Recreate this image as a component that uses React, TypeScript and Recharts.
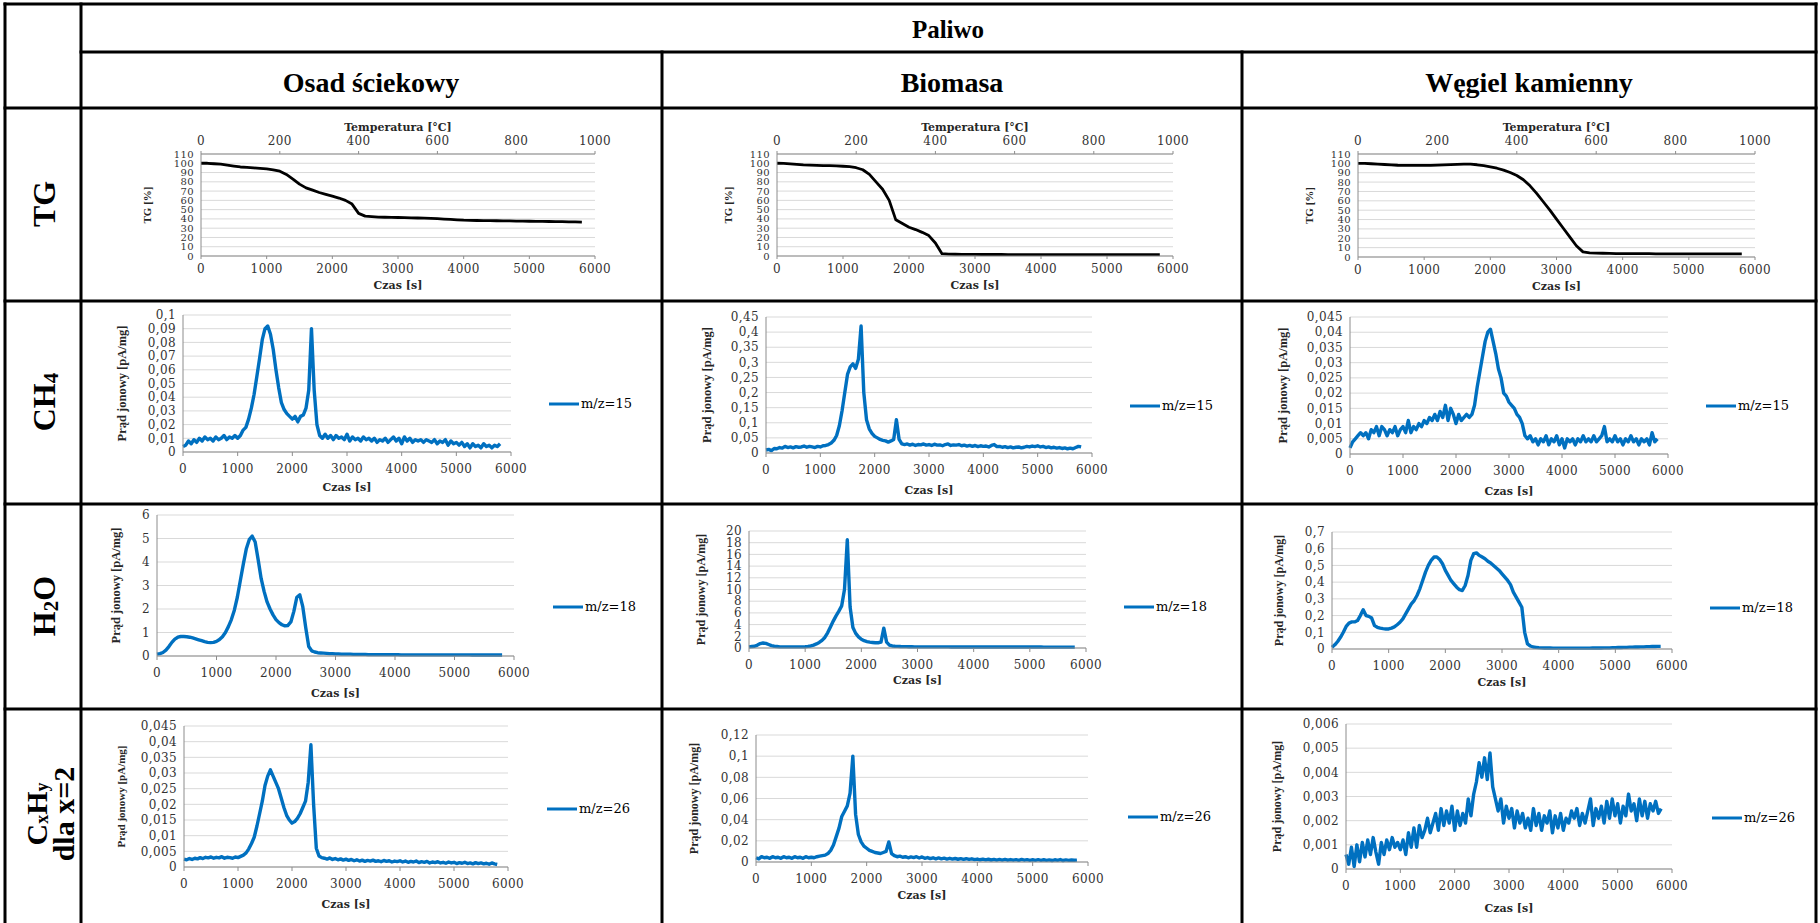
import React from "react";
import { LineChart, Line, XAxis, YAxis, CartesianGrid, Legend } from "recharts";

// czas pomiaru [s]
const czas100 = [
  0, 100, 200, 300, 400, 500, 600, 700, 800, 900,
  1000, 1100, 1200, 1300, 1400, 1500, 1600, 1700, 1800, 1900,
  2000, 2100, 2200, 2300, 2400, 2500, 2600, 2700, 2800, 2900,
  3000, 3100, 3200, 3300, 3400, 3500, 3600, 3700, 3800, 3900,
  4000, 4100, 4200, 4300, 4400, 4500, 4600, 4700, 4800, 4900,
  5000, 5100, 5200, 5300, 5400, 5500, 5600, 5700, 5800,
];
const czas50 = [
  0, 50, 100, 150, 200, 250, 300, 350, 400, 450,
  500, 550, 600, 650, 700, 750, 800, 850, 900, 950,
  1000, 1050, 1100, 1150, 1200, 1250, 1300, 1350, 1400, 1450,
  1500, 1550, 1600, 1650, 1700, 1750, 1800, 1850, 1900, 1950,
  2000, 2050, 2100, 2150, 2200, 2250, 2300, 2350, 2400, 2450,
  2500, 2550, 2600, 2650, 2700, 2750, 2800, 2850, 2900, 2950,
  3000, 3050, 3100, 3150, 3200, 3250, 3300, 3350, 3400, 3450,
  3500, 3550, 3600, 3650, 3700, 3750, 3800, 3850, 3900, 3950,
  4000, 4050, 4100, 4150, 4200, 4250, 4300, 4350, 4400, 4450,
  4500, 4550, 4600, 4650, 4700, 4750, 4800, 4850, 4900, 4950,
  5000, 5050, 5100, 5150, 5200, 5250, 5300, 5350, 5400, 5450,
  5500, 5550, 5600, 5650, 5700, 5750, 5800,
];

const czasTicks = [0, 1000, 2000, 3000, 4000, 5000, 6000];
// górna oś: temperatura [°C] i odpowiadające jej położenia na osi czasu
const tempLabels = [0, 200, 400, 600, 800, 1000];
const tempAtCzas = [0, 1200, 2400, 3600, 4800, 6000];

// TG [%]
const tgOsad = [
  100, 100, 99.5, 99, 98, 97, 96, 95.5, 95, 94.5,
  94, 93, 91.5, 88, 83, 77.5, 73.5, 71, 68.5, 66.5,
  64.5, 62.5, 60, 56, 46, 43, 42.5, 42, 41.8, 41.6,
  41.5, 41.3, 41.1, 41, 40.8, 40.5, 40.2, 39.8, 39.4, 39,
  38.6, 38.4, 38.3, 38.2, 38.1, 38, 37.9, 37.8, 37.7, 37.6,
  37.5, 37.4, 37.3, 37.2, 37.1, 37, 36.9, 36.8, 36.6,
];
const tgBiomasa = [
  100, 99.8, 99.3, 98.7, 98.2, 97.9, 97.7, 97.5, 97.4, 97.3,
  96.8, 96.3, 95.2, 93, 88, 80, 72, 60, 39, 35,
  31, 28.5, 25.5, 22, 14, 2.5, 2, 1.9, 1.8, 1.7,
  1.7, 1.6, 1.6, 1.6, 1.6, 1.5, 1.5, 1.5, 1.5, 1.5,
  1.5, 1.5, 1.5, 1.5, 1.5, 1.5, 1.5, 1.5, 1.5, 1.5,
  1.5, 1.5, 1.5, 1.5, 1.5, 1.5, 1.4, 1.4, 1.4,
];
const tgWegiel = [
  100, 100, 99.6, 99.2, 98.8, 98.4, 98, 97.8, 97.8, 97.8,
  97.8, 97.9, 98.1, 98.4, 98.7, 99, 99.2, 99.1, 98.5, 97.5,
  96.3, 94.8, 92.8, 90.3, 87, 82.5, 76, 68, 59, 50,
  40.5, 31, 21.5, 12, 5.5, 4.5, 4.2, 4, 3.8, 3.6,
  3.5, 3.5, 3.5, 3.5, 3.5, 3.4, 3.4, 3.4, 3.4, 3.4,
  3.4, 3.4, 3.3, 3.3, 3.3, 3.3, 3.3, 3.3, 3.3,
];

// CH4, m/z=15
const ch4Osad = [
  0.004, 0.005, 0.008, 0.006, 0.009, 0.007, 0.01, 0.008, 0.011, 0.009,
  0.01, 0.008, 0.011, 0.009, 0.01, 0.012, 0.009, 0.011, 0.01, 0.012,
  0.01, 0.012, 0.016, 0.018, 0.024, 0.032, 0.042, 0.055, 0.068, 0.082,
  0.09, 0.092, 0.086, 0.075, 0.06, 0.047, 0.036, 0.031, 0.028, 0.026,
  0.024, 0.026, 0.022, 0.026, 0.027, 0.032, 0.045, 0.09, 0.045, 0.02,
  0.012, 0.01, 0.013, 0.01, 0.012, 0.009, 0.012, 0.01, 0.011, 0.009,
  0.013, 0.008, 0.011, 0.009, 0.01, 0.008, 0.011, 0.009, 0.01, 0.008,
  0.01, 0.007, 0.009, 0.008, 0.01, 0.007, 0.009, 0.011, 0.008, 0.01,
  0.006, 0.011, 0.008, 0.01, 0.007, 0.009, 0.008, 0.009, 0.007, 0.009,
  0.008, 0.007, 0.009, 0.006, 0.008, 0.007, 0.009, 0.005, 0.008, 0.006,
  0.007, 0.005, 0.007, 0.004, 0.006, 0.003, 0.006, 0.004, 0.005, 0.003,
  0.006, 0.004, 0.005, 0.003, 0.005, 0.004, 0.006,
];
const ch4Biomasa = [
  0.01, 0.012, 0.008, 0.015, 0.014, 0.018, 0.016, 0.022, 0.018, 0.02,
  0.017, 0.021, 0.019, 0.02, 0.023, 0.019, 0.022, 0.02, 0.018, 0.022,
  0.02, 0.024, 0.025, 0.028, 0.033, 0.042, 0.058, 0.09, 0.14, 0.2,
  0.26, 0.285, 0.295, 0.28, 0.31, 0.42, 0.2, 0.11, 0.08, 0.065,
  0.055, 0.05, 0.045, 0.042, 0.04, 0.036, 0.04, 0.045, 0.11, 0.045,
  0.03, 0.028, 0.03, 0.026, 0.029, 0.025, 0.028, 0.027, 0.03, 0.026,
  0.028, 0.025, 0.029, 0.026, 0.027, 0.024, 0.028, 0.03, 0.025, 0.027,
  0.026, 0.028, 0.024, 0.026, 0.023, 0.025, 0.022, 0.025, 0.021, 0.024,
  0.022, 0.023, 0.02, 0.025, 0.028, 0.021, 0.022, 0.019, 0.021, 0.018,
  0.02, 0.017, 0.019, 0.02, 0.017, 0.019, 0.022, 0.02, 0.023, 0.021,
  0.024, 0.02, 0.022, 0.018, 0.02, 0.017, 0.019, 0.016, 0.018, 0.015,
  0.017, 0.014, 0.016, 0.014, 0.018, 0.022, 0.02,
];
const ch4Wegiel = [
  0.002, 0.004, 0.005, 0.006, 0.007, 0.006, 0.007, 0.005, 0.008, 0.007,
  0.009, 0.006, 0.009, 0.008, 0.006, 0.008, 0.007, 0.009, 0.006, 0.008,
  0.009, 0.007, 0.011, 0.007, 0.009, 0.008, 0.01, 0.009, 0.011, 0.01,
  0.012, 0.011, 0.013, 0.011, 0.014, 0.012, 0.016, 0.011, 0.015, 0.013,
  0.01, 0.013, 0.011, 0.012, 0.013, 0.012, 0.013, 0.016, 0.022, 0.027,
  0.032, 0.037, 0.04, 0.041, 0.037, 0.033, 0.028, 0.025, 0.02, 0.019,
  0.017, 0.016, 0.015, 0.013, 0.012, 0.01, 0.006, 0.005, 0.006, 0.004,
  0.005, 0.003, 0.005, 0.004, 0.006, 0.003, 0.005, 0.004, 0.006, 0.003,
  0.005, 0.002, 0.005, 0.004, 0.005, 0.003, 0.005, 0.004, 0.006, 0.004,
  0.005, 0.004, 0.006, 0.004, 0.005, 0.006, 0.009, 0.004, 0.005, 0.004,
  0.006, 0.004, 0.005, 0.003, 0.005, 0.004, 0.006, 0.004, 0.005, 0.003,
  0.005, 0.004, 0.005, 0.003, 0.007, 0.004, 0.005,
];

// H2O, m/z=18
const h2oOsad = [
  0.08, 0.1, 0.15, 0.25, 0.4, 0.58, 0.72, 0.8, 0.83, 0.83,
  0.82, 0.8, 0.77, 0.73, 0.69, 0.65, 0.61, 0.58, 0.57, 0.58,
  0.62, 0.7, 0.82, 1.0, 1.25, 1.55, 1.95, 2.5, 3.2, 3.9,
  4.55, 4.95, 5.1, 4.85, 4.1, 3.3, 2.75, 2.3, 2.0, 1.75,
  1.55, 1.42, 1.33, 1.28, 1.3, 1.45, 1.9, 2.5, 2.6, 2.1,
  1.2, 0.4, 0.22, 0.17, 0.14, 0.13, 0.12, 0.11, 0.1, 0.1,
  0.09, 0.09, 0.08, 0.08, 0.08, 0.08, 0.07, 0.07, 0.07, 0.07,
  0.07, 0.06, 0.06, 0.06, 0.06, 0.06, 0.06, 0.06, 0.06, 0.06,
  0.06, 0.06, 0.05, 0.05, 0.05, 0.05, 0.05, 0.05, 0.05, 0.05,
  0.05, 0.05, 0.05, 0.05, 0.05, 0.05, 0.05, 0.05, 0.05, 0.05,
  0.05, 0.05, 0.05, 0.05, 0.05, 0.05, 0.04, 0.04, 0.04, 0.04,
  0.04, 0.04, 0.04, 0.04, 0.04, 0.04, 0.04,
];
const h2oBiomasa = [
  0.2, 0.25, 0.3, 0.5, 0.75, 0.85, 0.8, 0.6, 0.4, 0.3,
  0.25, 0.2, 0.2, 0.2, 0.2, 0.2, 0.2, 0.2, 0.2, 0.2,
  0.22, 0.27, 0.35, 0.5, 0.7, 0.95, 1.3, 1.8, 2.6, 3.6,
  4.6, 5.5, 6.3, 7.2, 10, 18.5, 7, 3.5, 2.5, 1.9,
  1.5, 1.25, 1.1, 1.0, 0.95, 0.9, 0.9, 1.0, 3.4, 1.0,
  0.5, 0.35, 0.3, 0.28, 0.25, 0.24, 0.23, 0.22, 0.21, 0.2,
  0.2, 0.2, 0.2, 0.2, 0.2, 0.19, 0.19, 0.19, 0.19, 0.19,
  0.19, 0.19, 0.18, 0.18, 0.18, 0.18, 0.18, 0.18, 0.18, 0.18,
  0.18, 0.18, 0.17, 0.17, 0.17, 0.17, 0.17, 0.17, 0.17, 0.17,
  0.17, 0.17, 0.17, 0.17, 0.16, 0.16, 0.16, 0.16, 0.16, 0.16,
  0.16, 0.16, 0.16, 0.16, 0.16, 0.15, 0.15, 0.15, 0.15, 0.15,
  0.15, 0.15, 0.15, 0.15, 0.15, 0.15, 0.15,
];
const h2oWegiel = [
  0.01, 0.025, 0.045, 0.07, 0.1, 0.135, 0.155, 0.162, 0.162, 0.17,
  0.2, 0.235, 0.2, 0.195, 0.185, 0.14, 0.13, 0.125, 0.122, 0.12,
  0.12, 0.125, 0.132, 0.145, 0.16, 0.18, 0.21, 0.24, 0.27, 0.29,
  0.32, 0.36, 0.41, 0.46, 0.5, 0.53, 0.55, 0.55, 0.535, 0.51,
  0.47, 0.44, 0.41, 0.39, 0.37, 0.355, 0.35, 0.38, 0.44, 0.53,
  0.57, 0.575, 0.56, 0.55, 0.54, 0.525, 0.515, 0.5, 0.485, 0.47,
  0.45, 0.43, 0.41, 0.385, 0.34, 0.31, 0.28, 0.25, 0.1, 0.03,
  0.018, 0.012, 0.01, 0.008, 0.007, 0.006, 0.006, 0.006, 0.005, 0.005,
  0.005, 0.005, 0.005, 0.005, 0.005, 0.005, 0.005, 0.005, 0.005, 0.005,
  0.005, 0.005, 0.006, 0.006, 0.006, 0.006, 0.007, 0.007, 0.007, 0.008,
  0.008, 0.009, 0.009, 0.01, 0.01, 0.011, 0.011, 0.012, 0.012, 0.013,
  0.013, 0.014, 0.014, 0.015, 0.015, 0.016, 0.016,
];

// CxHy dla x=2, m/z=26
const cxOsad = [
  0.0025, 0.0023, 0.0027, 0.0024, 0.0028, 0.0026, 0.003, 0.0027, 0.0031, 0.0029,
  0.0032, 0.0028, 0.0031, 0.0029, 0.0033, 0.0028, 0.0031, 0.003, 0.0028, 0.0032,
  0.003, 0.0034, 0.0038, 0.0045, 0.0058, 0.0075, 0.0095, 0.013, 0.017, 0.021,
  0.026, 0.029, 0.031, 0.029, 0.027, 0.025, 0.022, 0.019, 0.0165, 0.015,
  0.014, 0.0145, 0.0155, 0.017, 0.019, 0.021, 0.027, 0.039, 0.02, 0.006,
  0.0035, 0.003, 0.0028, 0.0025, 0.0029, 0.0024, 0.0027, 0.0023, 0.0026, 0.0022,
  0.0025, 0.0021, 0.0024, 0.002, 0.0023, 0.0019, 0.0022, 0.0018, 0.0021, 0.0019,
  0.0022, 0.0018, 0.002, 0.0017, 0.0021, 0.0018, 0.002, 0.0016, 0.0019, 0.0017,
  0.002, 0.0016, 0.0019, 0.0015, 0.0018, 0.0016, 0.0019, 0.0014, 0.0017, 0.0015,
  0.0018, 0.0013, 0.0016, 0.0014, 0.0017, 0.0013, 0.0015, 0.0012, 0.0016, 0.0013,
  0.0015, 0.0011, 0.0014, 0.0012, 0.0015, 0.0011, 0.0013, 0.001, 0.0014, 0.0011,
  0.0013, 0.001, 0.0012, 0.0009, 0.0013, 0.001, 0.0008,
];
const cxBiomasa = [
  0.004, 0.003, 0.005, 0.004, 0.0045, 0.0035, 0.005, 0.004, 0.0045, 0.0035,
  0.005, 0.004, 0.0045, 0.0035, 0.005, 0.004, 0.0045, 0.0035, 0.005, 0.004,
  0.0045, 0.004, 0.005, 0.0055, 0.006, 0.0065, 0.008, 0.011, 0.016, 0.024,
  0.032, 0.043, 0.048, 0.053, 0.065, 0.1, 0.045, 0.026, 0.019, 0.015,
  0.013, 0.011, 0.01, 0.009, 0.0085, 0.008, 0.009, 0.01, 0.019, 0.008,
  0.006, 0.005, 0.0055, 0.0045, 0.005, 0.004, 0.0048, 0.0042, 0.005, 0.0038,
  0.0048, 0.0035, 0.0042, 0.0032, 0.004, 0.003, 0.0038, 0.003, 0.0036, 0.0028,
  0.0035, 0.0027, 0.0033, 0.0026, 0.0032, 0.0025, 0.0031, 0.0024, 0.003, 0.0022,
  0.0028, 0.0021, 0.0027, 0.002, 0.0026, 0.0019, 0.0025, 0.0018, 0.0024, 0.0018,
  0.0025, 0.0017, 0.0023, 0.0017, 0.0022, 0.0016, 0.0024, 0.0017, 0.0022, 0.0016,
  0.0021, 0.0015, 0.0022, 0.0016, 0.0021, 0.0015, 0.002, 0.0014, 0.0021, 0.0015,
  0.0023, 0.0014, 0.002, 0.0015, 0.0019, 0.0016, 0.0018,
];
const cxWegiel = [
  0.0006, 0.0002, 0.0009, 0.0001, 0.001, 0.0003, 0.0011, 0.0005, 0.0012, 0.0006,
  0.0013, 0.0007, 0.0002, 0.0011, 0.0006, 0.0012, 0.0008, 0.0013, 0.0009, 0.0011,
  0.0008, 0.0012, 0.0006, 0.0015, 0.0009, 0.0017, 0.0009, 0.0018, 0.0013, 0.0016,
  0.0021, 0.0015, 0.0019, 0.0023, 0.0016, 0.0025, 0.0018, 0.0024, 0.0019, 0.0026,
  0.0016, 0.0024, 0.0018, 0.0023, 0.0019, 0.0029, 0.0022, 0.0031, 0.0036, 0.0044,
  0.0038, 0.0046, 0.0037, 0.0048, 0.0034, 0.0029, 0.0024, 0.0029, 0.0019, 0.0026,
  0.0021, 0.0025, 0.0017, 0.0024, 0.0019, 0.0023, 0.0017, 0.0021, 0.0016, 0.0025,
  0.0018, 0.0023, 0.0016, 0.0022, 0.0019, 0.0024, 0.0015, 0.0022, 0.0017, 0.0023,
  0.0016, 0.0021, 0.0019, 0.0024, 0.0021, 0.0025, 0.0018, 0.0023, 0.0019, 0.0024,
  0.0029, 0.0018, 0.0025, 0.0021, 0.0026, 0.0019, 0.0028, 0.0021, 0.0029, 0.0022,
  0.0027, 0.0019, 0.0026, 0.0022, 0.0031, 0.0024, 0.0027, 0.002, 0.0029, 0.0022,
  0.0028, 0.0021, 0.0027, 0.0024, 0.0028, 0.0023, 0.0025,
];

// podziałki osi Y
const tgTicks = [0, 10, 20, 30, 40, 50, 60, 70, 80, 90, 100, 110];
const ch4OsadTicks = [0, 0.01, 0.02, 0.03, 0.04, 0.05, 0.06, 0.07, 0.08, 0.09, 0.1];
const ch4BiomasaTicks = [0, 0.05, 0.1, 0.15, 0.2, 0.25, 0.3, 0.35, 0.4, 0.45];
const ch4WegielTicks = [0, 0.005, 0.01, 0.015, 0.02, 0.025, 0.03, 0.035, 0.04, 0.045];
const h2oOsadTicks = [0, 1, 2, 3, 4, 5, 6];
const h2oBiomasaTicks = [0, 2, 4, 6, 8, 10, 12, 14, 16, 18, 20];
const h2oWegielTicks = [0, 0.1, 0.2, 0.3, 0.4, 0.5, 0.6, 0.7];
const cxOsadTicks = [0, 0.005, 0.01, 0.015, 0.02, 0.025, 0.03, 0.035, 0.04, 0.045];
const cxBiomasaTicks = [0, 0.02, 0.04, 0.06, 0.08, 0.1, 0.12];
const cxWegielTicks = [0, 0.001, 0.002, 0.003, 0.004, 0.005, 0.006];

const TABLE_FONT = '"Liberation Serif", "Times New Roman", serif';
const CHART_FONT = '"DejaVu Serif", serif';
const AXIS = "#8c8c8c";
const GRID = "#d9d9d9";
const TXT = "#333";
const BLUE = "#0070c0";
const ION_LABEL = "Prąd jonowy [pA/mg]";

const fmt = (v: number) => String(v).replace(".", ",");

type PanelCfg = {
  id: string;
  x: number; // lewa krawędź obszaru wykresu
  y: number; // górna krawędź obszaru wykresu
  w: number;
  h: number;
  yW: number;
  xH: number;
  czas: number[];
  vals: number[];
  yTicks: number[];
  yLabel: string;
  labelSize: number;
  tg?: boolean;
  name?: string;
  lx?: number;
  ly?: number;
};

const panels: PanelCfg[] = [
  { id: "tg1", tg: true, x: 201, y: 154, w: 394, h: 102, yW: 62, xH: 33, czas: czas100, vals: tgOsad, yTicks: tgTicks, yLabel: "TG [%]", labelSize: 11 },
  { id: "tg2", tg: true, x: 777, y: 154, w: 396, h: 102, yW: 57, xH: 33, czas: czas100, vals: tgBiomasa, yTicks: tgTicks, yLabel: "TG [%]", labelSize: 11 },
  { id: "tg3", tg: true, x: 1358, y: 154, w: 397, h: 103, yW: 57, xH: 33, czas: czas100, vals: tgWegiel, yTicks: tgTicks, yLabel: "TG [%]", labelSize: 11 },

  { id: "ch1", x: 183, y: 315, w: 328, h: 137, yW: 69, xH: 39, czas: czas50, vals: ch4Osad, yTicks: ch4OsadTicks, yLabel: ION_LABEL, labelSize: 12.5, name: "m/z=15", lx: 549, ly: 405 },
  { id: "ch2", x: 766, y: 317, w: 326, h: 136, yW: 67, xH: 41, czas: czas50, vals: ch4Biomasa, yTicks: ch4BiomasaTicks, yLabel: ION_LABEL, labelSize: 12.5, name: "m/z=15", lx: 1130, ly: 407 },
  { id: "ch3", x: 1350, y: 317, w: 318, h: 137, yW: 75, xH: 41, czas: czas50, vals: ch4Wegiel, yTicks: ch4WegielTicks, yLabel: ION_LABEL, labelSize: 12.5, name: "m/z=15", lx: 1706, ly: 407 },

  { id: "h1", x: 157, y: 515, w: 357, h: 141, yW: 49, xH: 41, czas: czas50, vals: h2oOsad, yTicks: h2oOsadTicks, yLabel: ION_LABEL, labelSize: 12.5, name: "m/z=18", lx: 553, ly: 608 },
  { id: "h2", x: 749, y: 531, w: 337, h: 117, yW: 56, xH: 36, czas: czas50, vals: h2oBiomasa, yTicks: h2oBiomasaTicks, yLabel: ION_LABEL, labelSize: 12, name: "m/z=18", lx: 1124, ly: 608 },
  { id: "h3", x: 1332, y: 532, w: 340, h: 117, yW: 61, xH: 37, czas: czas50, vals: h2oWegiel, yTicks: h2oWegielTicks, yLabel: ION_LABEL, labelSize: 12, name: "m/z=18", lx: 1710, ly: 609 },

  { id: "c1", x: 184, y: 726, w: 324, h: 141, yW: 71, xH: 41, czas: czas50, vals: cxOsad, yTicks: cxOsadTicks, yLabel: ION_LABEL, labelSize: 11, name: "m/z=26", lx: 547, ly: 810 },
  { id: "c2", x: 756, y: 735, w: 332, h: 127, yW: 70, xH: 37, czas: czas50, vals: cxBiomasa, yTicks: cxBiomasaTicks, yLabel: ION_LABEL, labelSize: 12, name: "m/z=26", lx: 1128, ly: 818 },
  { id: "c3", x: 1346, y: 724, w: 326, h: 145, yW: 77, xH: 43, czas: czas50, vals: cxWegiel, yTicks: cxWegielTicks, yLabel: ION_LABEL, labelSize: 12, name: "m/z=26", lx: 1712, ly: 819 },
];

const titleStyle = { fontFamily: CHART_FONT, fontWeight: 700, fontSize: 11, fill: "#262626" };
const tickStyle = { fill: TXT, fontSize: 12, fontFamily: CHART_FONT, letterSpacing: 0.4 };

function LegendBox(props: any) {
  const item = props.payload && props.payload[0];
  if (!item) return null;
  return (
    <div style={{ display: "flex", alignItems: "center", fontFamily: CHART_FONT, fontSize: 13, color: "#000", whiteSpace: "nowrap" }}>
      <svg width={30} height={8}>
        <line x1={0} y1={4} x2={30} y2={4} stroke={item.color} strokeWidth={3} />
      </svg>
      <span style={{ marginLeft: 2 }}>{item.value}</span>
    </div>
  );
}

function Panel({ p }: { p: PanelCfg }) {
  const topH = p.tg ? 36 : 8;
  const bottomPad = 6;
  const rightEdge = p.lx !== undefined ? p.lx + 95 : p.x + p.w + 24;
  const right = rightEdge - (p.x + p.w);
  const W = p.yW + p.w + right;
  const H = topH + p.h + p.xH + bottomPad;
  const left0 = p.x - p.yW;
  const top0 = p.y - topH;
  const data = p.czas.map((t, i) => ({ t, v: p.vals[i] }));
  const yMax = p.yTicks[p.yTicks.length - 1];
  return (
    <div style={{ position: "absolute", left: left0, top: top0 }}>
      <LineChart width={W} height={H} data={data} margin={{ top: p.tg ? 0 : topH, right, left: 0, bottom: bottomPad }}>
        <CartesianGrid vertical={false} stroke={GRID} />
        {p.tg && (
          <XAxis
            xAxisId="temp"
            orientation="top"
            dataKey="t"
            type="number"
            domain={[0, 6000]}
            ticks={tempAtCzas}
            interval={0}
            allowDataOverflow
            height={topH}
            tickSize={3}
            tickMargin={6}
            stroke={AXIS}
            tick={tickStyle}
            tickFormatter={(_v: number, i: number) => String(tempLabels[i])}
            label={{ value: "Temperatura [°C]", position: "insideTop", offset: 5, style: titleStyle }}
          />
        )}
        <XAxis
          dataKey="t"
          type="number"
          domain={[0, 6000]}
          ticks={czasTicks}
          interval={0}
          height={p.xH}
          tickSize={p.tg ? 3 : 4}
          tickMargin={p.tg ? 5 : 8}
          stroke={AXIS}
          tick={tickStyle}
          label={{ value: "Czas [s]", position: "insideBottom", offset: 0, style: titleStyle }}
        />
        <YAxis
          type="number"
          domain={[0, yMax]}
          ticks={p.yTicks}
          interval={0}
          width={p.yW}
          tickLine={false}
          tickSize={3}
          tickMargin={4}
          stroke={AXIS}
          tick={{ ...tickStyle, fontSize: p.tg ? 10 : 12 }}
          tickFormatter={fmt}
          label={{
            value: p.yLabel,
            angle: -90,
            position: "insideLeft",
            offset: 8,
            style: { fontFamily: TABLE_FONT, fontWeight: 700, fontSize: p.labelSize, fill: "#262626", textAnchor: "middle" },
          }}
        />
        {p.tg && (
          <Line xAxisId="temp" type="linear" dataKey="v" stroke="none" dot={false} legendType="none" isAnimationActive={false} />
        )}
        <Line
          type="linear"
          dataKey="v"
          name={p.name || p.yLabel}
          stroke={p.tg ? "#000" : BLUE}
          strokeWidth={p.tg ? 2.8 : 3.4}
          strokeLinejoin="round"
          dot={false}
          isAnimationActive={false}
        />
        {p.name && (
          <Legend
            layout="horizontal"
            verticalAlign="middle"
            align="center"
            content={LegendBox}
            wrapperStyle={{ left: (p.lx as number) - left0, top: (p.ly as number) - top0 - 9, width: "auto" }}
          />
        )}
      </LineChart>
    </div>
  );
}

function Frame() {
  const L = 5;
  const R = 1816;
  const T = 4;
  const B = 923;
  const lines = [
    [L, T, R, T], [L, T, L, B], [R, T, R, B], [81, T, 81, B],
    [81, 52, R, 52], [L, 108, R, 108], [662, 52, 662, B], [1242, 52, 1242, B],
    [L, 301, R, 301], [L, 504, R, 504], [L, 709, R, 709],
  ];
  const head = { fontFamily: TABLE_FONT, fontWeight: 700, fill: "#000" };
  return (
    <svg width={1820} height={923} style={{ position: "absolute", left: 0, top: 0 }}>
      {lines.map((l, i) => (
        <line key={i} x1={l[0]} y1={l[1]} x2={l[2]} y2={l[3]} stroke="#000" strokeWidth={3} strokeLinecap="square" />
      ))}
      <text x={948} y={29} textAnchor="middle" dominantBaseline="central" fontSize={25} {...head}>Paliwo</text>
      <text x={371} y={82} textAnchor="middle" dominantBaseline="central" fontSize={28} {...head}>Osad ściekowy</text>
      <text x={952} y={82} textAnchor="middle" dominantBaseline="central" fontSize={28} {...head}>Biomasa</text>
      <text x={1529} y={82} textAnchor="middle" dominantBaseline="central" fontSize={28} {...head}>Węgiel kamienny</text>

      <text transform="translate(44,204) rotate(-90)" textAnchor="middle" dominantBaseline="central" fontSize={32} {...head}>TG</text>
      <text transform="translate(44,402) rotate(-90)" textAnchor="middle" dominantBaseline="central" fontSize={32} {...head}>
        CH<tspan dy={7} fontSize={21}>4</tspan>
      </text>
      <text transform="translate(44,606) rotate(-90)" textAnchor="middle" dominantBaseline="central" fontSize={32} {...head}>
        H<tspan dy={7} fontSize={21}>2</tspan><tspan dy={-7}>O</tspan>
      </text>
      <g transform="translate(50,814) rotate(-90)">
        <text x={0} y={-14} textAnchor="middle" dominantBaseline="central" fontSize={30} {...head}>
          C<tspan dy={6} fontSize={18}>x</tspan><tspan dy={-6}>H</tspan><tspan dy={6} fontSize={18}>y</tspan>
        </text>
        <text x={0} y={13} textAnchor="middle" dominantBaseline="central" fontSize={30} {...head}>dla x=2</text>
      </g>
    </svg>
  );
}

export default function App() {
  return (
    <div style={{ position: "absolute", left: 0, top: 0, width: 1820, height: 923, background: "#fff", overflow: "hidden", fontFamily: TABLE_FONT }}>
      <Frame />
      {panels.map((p) => (
        <Panel key={p.id} p={p} />
      ))}
    </div>
  );
}
